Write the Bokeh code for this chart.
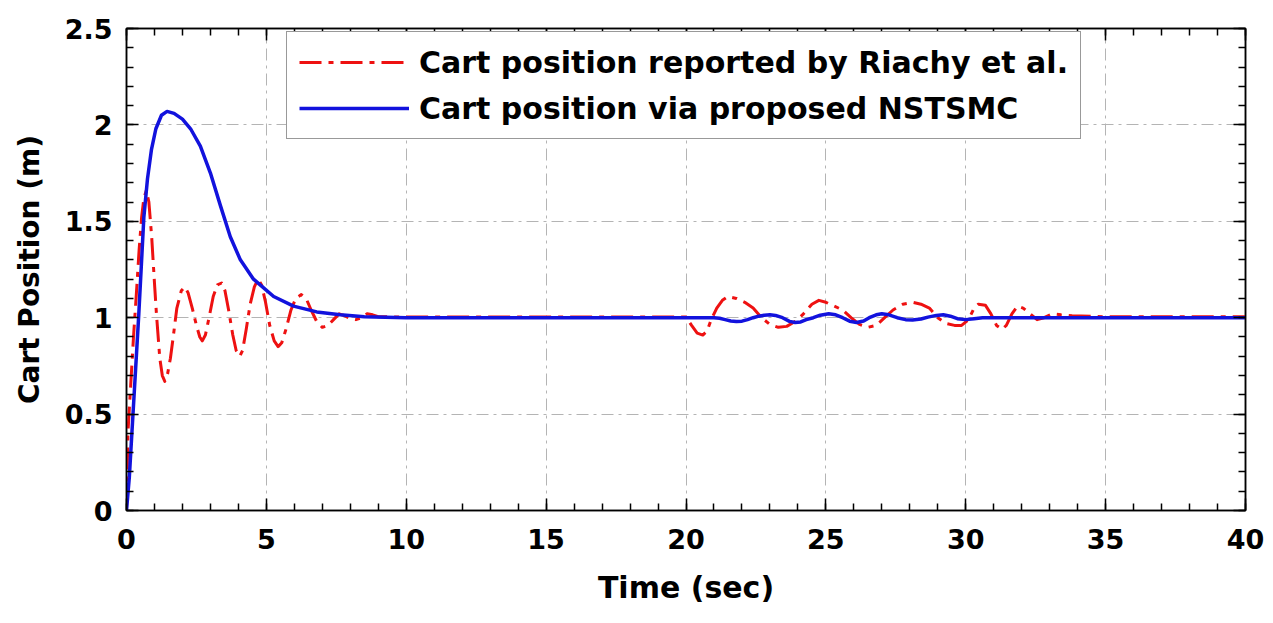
from bokeh.plotting import figure
from bokeh.models import LinearAxis, Legend, LegendItem, FixedTicker
from bokeh.embed import file_html
from bokeh.resources import INLINE

# Time samples (s) and cart position (m) for each controller
t_riachy = [0, 0.05, 0.15, 0.25, 0.36, 0.45, 0.54, 0.62, 0.71, 0.8, 0.9, 1.0, 1.07, 1.19,
            1.28, 1.37, 1.47, 1.57, 1.67, 1.8, 1.96, 2.08, 2.2, 2.35, 2.5, 2.62, 2.71,
            2.82, 2.95, 3.1, 3.25, 3.4, 3.52, 3.65, 3.8, 3.92, 4.05, 4.15, 4.28, 4.42,
            4.57, 4.7, 4.83, 4.97, 5.12, 5.28, 5.42, 5.55, 5.7, 5.88, 6.05, 6.25, 6.42,
            6.6, 6.8, 7.0, 7.2, 7.4, 7.6, 7.8, 8.0, 8.2, 8.4, 8.6, 8.8, 9.0, 9.5,
            20.0, 20.2, 20.4, 20.6, 20.75, 20.9, 21.1, 21.3, 21.5, 21.8, 22.1,
            22.4, 22.7, 23.0, 23.3, 23.6, 23.9, 24.2, 24.5, 24.75, 25.0, 25.3, 25.6,
            25.9, 26.2, 26.5, 26.8, 27.1, 27.4, 27.75, 28.1, 28.4, 28.7, 29.0, 29.3,
            29.6, 29.85, 30.1, 30.3, 30.45, 30.7, 30.9, 31.1, 31.3, 31.45, 31.65,
            31.85, 32.05, 32.3, 32.55, 32.8, 33.1, 33.4, 33.8, 35.0, 40.0]
x_riachy = [0, 0.40, 0.65, 0.90, 1.14, 1.35, 1.52, 1.62, 1.66, 1.60, 1.42, 1.18, 1.02, 0.79,
            0.70, 0.67, 0.71, 0.79, 0.90, 1.05, 1.14, 1.16, 1.13, 1.05, 0.96, 0.90, 0.88,
            0.91, 1.00, 1.11, 1.17, 1.18, 1.14, 1.04, 0.91, 0.83, 0.80, 0.83, 0.94, 1.07,
            1.16, 1.20, 1.17, 1.08, 0.96, 0.88, 0.85, 0.87, 0.94, 1.04, 1.10, 1.12, 1.10,
            1.04, 0.98, 0.95, 0.96, 0.99, 1.02, 1.01, 0.995, 0.99, 1.0, 1.02, 1.015, 1.005, 1.004,
            1.004, 0.96, 0.92, 0.91, 0.93, 0.99, 1.05, 1.09, 1.11, 1.10, 1.08,
            1.05, 1.0, 0.965, 0.95, 0.955, 0.98, 1.02, 1.07, 1.09, 1.08, 1.06, 1.04,
            1.0, 0.965, 0.95, 0.96, 1.0, 1.04, 1.07, 1.08, 1.07, 1.05, 1.0, 0.97,
            0.96, 0.96, 0.99, 1.05, 1.07, 1.065, 1.02, 0.96, 0.94, 0.96, 1.02,
            1.06, 1.05, 1.02, 0.99, 1.0, 1.02, 1.015, 1.01, 1.005, 1.005]

t_nstsmc = [0, 0.1, 0.24, 0.34, 0.44, 0.53, 0.62, 0.75, 0.89, 1.05, 1.25, 1.45, 1.7, 2.0,
            2.29, 2.64, 3.0, 3.36, 3.71, 4.07, 4.54, 5.26, 5.97, 6.8, 7.64, 8.5, 10.0,
            21.0, 21.2, 21.4, 21.6, 21.8, 22.0, 22.2, 22.4, 22.6, 22.8, 23.0, 23.2,
            23.45, 23.7, 23.9, 24.1, 24.3, 24.55, 24.8, 25.1, 25.35, 25.6, 25.85,
            26.1, 26.35, 26.55, 26.8, 27.0, 27.25, 27.55, 27.85, 28.1, 28.4, 28.65,
            28.95, 29.2, 29.45, 29.7, 30.0, 30.3, 30.6, 40.0]
x_nstsmc = [0, 0.17, 0.52, 0.77, 1.02, 1.27, 1.52, 1.72, 1.87, 1.98, 2.05, 2.07, 2.06, 2.03,
            1.98, 1.89, 1.75, 1.58, 1.42, 1.30, 1.20, 1.11, 1.06, 1.03, 1.015, 1.005, 1.0,
            1.0, 0.997, 0.99, 0.983, 0.98, 0.982, 0.99, 1.0, 1.008, 1.013, 1.015, 1.012,
            1.0, 0.981, 0.975, 0.978, 0.99, 1.0, 1.013, 1.02, 1.015, 1.0, 0.982,
            0.975, 0.983, 1.0, 1.015, 1.02, 1.015, 1.0, 0.99, 0.988, 0.993, 1.003,
            1.012, 1.015, 1.008, 0.995, 0.99, 0.995, 1.0, 1.0]

x_ticks = [0, 5, 10, 15, 20, 25, 30, 35, 40]
y_ticks = [0, 0.5, 1, 1.5, 2, 2.5]
x_minor = [float(i) for i in range(0, 41)]
y_minor = [i / 10 for i in range(0, 26)]

series_labels = ["Cart position reported by Riachy et al.",
                 "Cart position via proposed NSTSMC"]

FONT = "DejaVu Sans"

p = figure(width=1273, height=623, x_range=(0, 40), y_range=(0, 2.5),
           output_backend="svg", toolbar_location=None,
           min_border_left=126, min_border_right=28,
           min_border_top=28, min_border_bottom=113,
           background_fill_color="white", border_fill_color="white")

p.outline_line_color = "black"
p.outline_line_width = 1.5

# Dash-dot grid
for g in (p.xgrid, p.ygrid):
    g.grid_line_color = "#b4b4b4"
    g.grid_line_dash = "12 5 3 5"
    g.grid_line_width = 1

p.xaxis.ticker = FixedTicker(ticks=x_ticks, minor_ticks=x_minor)
p.yaxis.ticker = FixedTicker(ticks=y_ticks, minor_ticks=y_minor)


def style_axis(ax, show_labels):
    ax.axis_line_color = "black"
    ax.axis_line_width = 1.5
    ax.major_tick_in = 12
    ax.major_tick_out = 0
    ax.minor_tick_in = 7
    ax.minor_tick_out = 0
    ax.major_tick_line_color = "black"
    ax.minor_tick_line_color = "black"
    ax.major_tick_line_width = 1.5
    ax.minor_tick_line_width = 1.5
    if show_labels:
        ax.major_label_text_font = FONT
        ax.major_label_text_font_style = "bold"
        ax.major_label_text_font_size = "27px"
        ax.major_label_text_color = "black"
    else:
        ax.major_label_text_font_size = "0px"
        ax.major_label_text_alpha = 0


style_axis(p.xaxis[0], True)
style_axis(p.yaxis[0], True)
p.xaxis[0].major_label_standoff = 18
p.yaxis[0].major_label_standoff = 14

p.xaxis[0].axis_label = "Time (sec)"
p.yaxis[0].axis_label = "Cart Position (m)"
for ax in (p.xaxis[0], p.yaxis[0]):
    ax.axis_label_text_font = FONT
    ax.axis_label_text_font_style = "bold"
    ax.axis_label_text_color = "black"
p.xaxis[0].axis_label_text_font_size = "30px"
p.yaxis[0].axis_label_text_font_size = "28px"
p.xaxis[0].axis_label_standoff = 18
p.yaxis[0].axis_label_standoff = 16

# Mirror ticks on the top and right edges
top = LinearAxis(ticker=FixedTicker(ticks=x_ticks, minor_ticks=x_minor))
right = LinearAxis(ticker=FixedTicker(ticks=y_ticks, minor_ticks=y_minor))
style_axis(top, False)
style_axis(right, False)
p.add_layout(top, "above")
p.add_layout(right, "right")

r_red = p.line(t_riachy, x_riachy, line_color="#ee1111", line_width=3,
               line_dash="22 7 5 7", line_join="round")
r_blue = p.line(t_nstsmc, x_nstsmc, line_color="#1212dd", line_width=3.5,
                line_join="round")

legend = Legend(items=[LegendItem(label=series_labels[0], renderers=[r_red]),
                       LegendItem(label=series_labels[1], renderers=[r_blue])],
                location=(160, 371))
legend.glyph_width = 110
legend.glyph_height = 36
legend.label_height = 36
legend.label_standoff = 10
legend.padding = 12
legend.spacing = 10
legend.margin = 0
legend.label_text_font = FONT
legend.label_text_font_style = "bold"
legend.label_text_font_size = "30px"
legend.label_text_color = "black"
legend.border_line_color = "#333333"
legend.border_line_width = 1.5
legend.background_fill_color = "white"
legend.background_fill_alpha = 1
p.add_layout(legend, "center")

open("out.html", "w").write(file_html(p, INLINE))
